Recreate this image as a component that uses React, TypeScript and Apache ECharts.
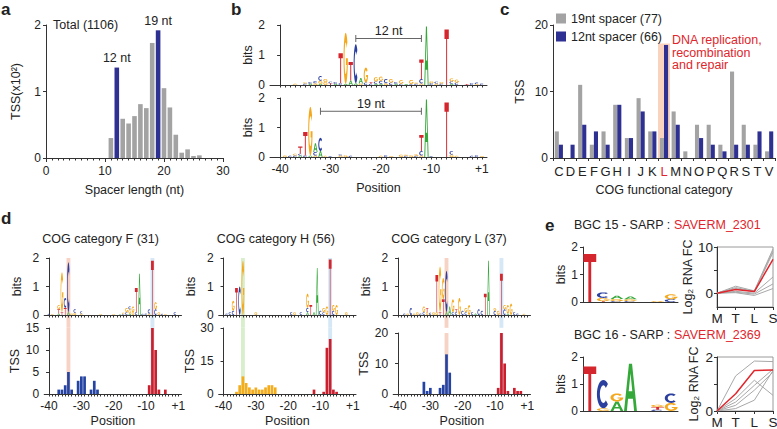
import React, { useEffect, useRef } from 'react';
import * as echarts from 'echarts';

const FONT = '"Liberation Sans", Arial, Helvetica, sans-serif';
const INK = '#222';
const AXC = '#333';
const GRAY = '#a3a3a3';
const NAVY = '#2e3192';
const RED = '#e0262c';

// ---------- panel a ----------
const spacerLength = [11, 12, 13, 14, 15, 16, 17, 18, 19, 20, 21, 22, 23, 24, 25, 26];
const spacerTss = [0.3, 1.36, 0.59, 0.52, 0.63, 0.81, 0.75, 1.73, 1.92, 1.05, 0.76, 0.35, 0.08, 0.13, 0.03, 0.04];
const spacerMarked = [12, 19];
const spacerMarkLabels = ['12 nt', '19 nt'];

// ---------- panel b (logos: [position, letter, height], bottom to top) ----------
const logo12nt = [
  [-37, 'G', 0.04], [-35, 'C', 0.05], [-35, 'G', 0.04], [-34, 'A', 0.04], [-34, 'C', 0.06],
  [-33, 'G', 0.06], [-33, 'C', 0.07], [-32, 'A', 0.04], [-32, 'G', 0.1], [-32, 'C', 0.16],
  [-31, 'G', 0.1], [-31, 'G', 0.1], [-30, 'T', 0.06], [-30, 'C', 0.05], [-29, 'A', 0.04], [-29, 'C', 0.06],
  [-28, 'C', 0.06], [-28, 'T', 1.0], [-27, 'A', 0.04], [-27, 'G', 1.7], [-26, 'A', 0.15], [-26, 'T', 0.62],
  [-25, 'A', 0.06], [-25, 'C', 1.3], [-24, 'G', 0.05], [-24, 'A', 0.18], [-23, 'C', 0.08], [-23, 'G', 0.5],
  [-22, 'C', 0.04], [-22, 'T', 0.06], [-21, 'A', 0.04], [-21, 'C', 0.08], [-21, 'G', 0.14],
  [-20, 'A', 0.04], [-20, 'C', 0.1], [-20, 'G', 0.14], [-19, 'G', 0.06], [-19, 'C', 0.14],
  [-18, 'C', 0.08], [-18, 'G', 0.12], [-17, 'A', 0.04], [-17, 'C', 0.06], [-16, 'C', 0.04], [-16, 'G', 0.12],
  [-15, 'A', 0.03], [-14, 'C', 0.03], [-14, 'G', 0.14], [-13, 'C', 0.04], [-13, 'G', 0.04],
  [-12, 'G', 0.05], [-12, 'C', 0.15], [-12, 'T', 0.65], [-11, 'A', 1.95], [-10, 'C', 0.06], [-10, 'G', 0.06],
  [-9, 'G', 0.05], [-9, 'C', 0.06], [-8, 'C', 0.05], [-8, 'G', 0.05], [-7, 'T', 1.85],
  [-6, 'A', 0.04], [-6, 'C', 0.08], [-6, 'G', 0.1], [-5, 'C', 0.08], [-5, 'G', 0.1],
  [-3, 'T', 0.03], [-2, 'C', 0.06], [-1, 'G', 0.03], [-1, 'C', 0.05], [1, 'C', 0.05],
];
const logo19nt = [
  [-39, 'G', 0.05], [-38, 'C', 0.04], [-37, 'C', 0.05], [-37, 'G', 0.06],
  [-36, 'A', 0.05], [-36, 'C', 0.06], [-36, 'T', 0.25], [-35, 'C', 0.05], [-35, 'T', 0.8],
  [-34, 'A', 0.05], [-34, 'G', 1.65], [-33, 'G', 0.05], [-33, 'C', 0.12], [-33, 'A', 0.3],
  [-32, 'A', 0.2], [-32, 'C', 0.45], [-31, 'G', 0.04], [-30, 'C', 0.03],
  [-28, 'G', 0.05], [-28, 'C', 0.04], [-27, 'G', 0.06], [-26, 'C', 0.04],
  [-20, 'G', 0.04], [-19, 'C', 0.06], [-18, 'G', 0.03], [-16, 'G', 0.08], [-15, 'C', 0.04], [-15, 'G', 0.04],
  [-14, 'G', 0.06], [-13, 'C', 0.04], [-13, 'G', 0.05], [-12, 'G', 0.05], [-12, 'C', 0.15], [-12, 'T', 0.55],
  [-11, 'A', 1.95], [-10, 'C', 0.03], [-7, 'T', 1.85], [-6, 'G', 0.08], [-6, 'C', 0.12], [-5, 'G', 0.04],
  [-2, 'C', 0.04], [-1, 'C', 0.06], [1, 'G', 0.03],
];
const spacerBrackets = [[-25, -12, 1.55], [-32, -12, 1.55]];
const spacerBracketLabels = ['12 nt', '19 nt'];

// ---------- panel c ----------
const cogCategories = ['C', 'D', 'E', 'F', 'G', 'H', 'I', 'J', 'K', 'L', 'M', 'N', 'O', 'P', 'Q', 'R', 'S', 'T', 'V'];
const tss19nt = [4, 0, 11, 2, 4, 8, 3, 9, 4, 3, 7, 1, 5, 5, 2, 13, 5, 2, 1];
const tss12nt = [2, 2, 5, 4, 2, 8, 3, 7, 4, 17, 5, 0, 3, 2, 1, 2, 2, 4, 4];
const cogHighlight = ['L'];
const cogHighlightTop = [17.2];

// ---------- panel d ----------
const logoF = [
  [-40, 'C', 0.04], [-39, 'G', 0.03], [-37, 'A', 0.05], [-37, 'T', 0.15], [-37, 'G', 0.15],
  [-36, 'T', 0.1], [-36, 'G', 1.4], [-35, 'T', 0.25], [-35, 'C', 0.35], [-34, 'A', 0.1], [-34, 'C', 1.75],
  [-33, 'G', 0.05], [-32, 'G', 0.08], [-32, 'C', 0.12], [-30, 'G', 0.05], [-30, 'C', 0.08],
  [-24, 'G', 0.03], [-20, 'G', 0.03], [-18, 'A', 0.03], [-17, 'C', 0.03], [-17, 'G', 0.05],
  [-16, 'C', 0.1], [-16, 'G', 0.15], [-15, 'A', 0.05], [-15, 'G', 0.15], [-15, 'C', 0.1],
  [-14, 'G', 0.1], [-14, 'G', 0.2], [-13, 'C', 0.1], [-13, 'T', 0.85], [-12, 'A', 1.45],
  [-11, 'C', 0.04], [-10, 'C', 0.05], [-9, 'G', 0.05], [-9, 'C', 0.15], [-8, 'T', 1.9],
  [-7, 'C', 0.2], [-7, 'G', 0.25], [-6, 'G', 0.1], [-5, 'C', 0.04], [-4, 'G', 0.03], [-1, 'C', 0.1],
];
const logoH = [
  [-39, 'C', 0.05], [-38, 'C', 0.1], [-37, 'C', 0.15], [-37, 'G', 0.35], [-36, 'T', 0.95],
  [-35, 'C', 1.0], [-34, 'G', 1.9], [-30, 'G', 0.1], [-19, 'C', 0.1], [-18, 'G', 0.1], [-16, 'C', 0.1],
  [-14, 'A', 0.1], [-14, 'C', 0.15], [-14, 'G', 0.5], [-13, 'T', 0.35], [-12, 'A', 0.1], [-11, 'A', 1.65],
  [-10, 'C', 0.15], [-9, 'C', 0.1], [-9, 'G', 0.15], [-8, 'G', 0.3], [-7, 'T', 1.95],
  [-6, 'C', 0.15], [-6, 'G', 0.2], [-5, 'G', 0.35], [-2, 'G', 0.1],
];
const logoL = [
  [-38, 'C', 0.05], [-37, 'G', 0.05], [-36, 'C', 0.25], [-35, 'G', 0.05], [-34, 'G', 0.1], [-33, 'C', 0.05],
  [-32, 'C', 0.1], [-32, 'G', 0.2], [-31, 'G', 0.1], [-31, 'T', 0.15], [-30, 'C', 0.08], [-29, 'G', 0.1],
  [-28, 'G', 0.1], [-28, 'T', 1.3], [-27, 'T', 0.1], [-27, 'G', 1.6], [-26, 'T', 0.55], [-26, 'G', 0.75],
  [-25, 'A', 0.1], [-25, 'C', 1.45], [-24, 'A', 0.3], [-23, 'C', 0.1], [-23, 'G', 0.45],
  [-22, 'C', 0.1], [-22, 'T', 0.1], [-21, 'G', 0.6], [-20, 'C', 0.15], [-19, 'C', 0.1], [-19, 'G', 0.15],
  [-18, 'G', 0.35], [-17, 'C', 0.1], [-16, 'A', 0.05], [-15, 'C', 0.2], [-14, 'C', 0.15],
  [-13, 'T', 0.75], [-12, 'A', 1.9], [-10, 'C', 0.15], [-10, 'G', 0.1], [-9, 'G', 0.15],
  [-8, 'T', 1.45], [-7, 'C', 0.2], [-7, 'G', 0.15], [-6, 'A', 0.05], [-6, 'G', 0.3], [-5, 'G', 0.4],
  [-4, 'C', 0.1], [-3, 'C', 0.05], [-1, 'G', 0.04],
];
const tssFUpstream = [[-37, 1], [-36, 1], [-35, 2], [-34, 5], [-33, 1], [-31, 3], [-30, 4], [-29, 4], [-27, 1], [-26, 3], [-25, 1]];
const tssFCore = [[-9, 2], [-8, 15], [-7, 10], [-6, 1], [-4, 1]];
const tssHUpstream = [[-36, 1], [-35, 4], [-34, 8], [-33, 5], [-32, 3], [-31, 2], [-30, 3], [-29, 2], [-28, 2], [-27, 3], [-26, 4], [-25, 4], [-24, 3]];
const tssHCore = [[-12, 2], [-9, 1], [-8, 21], [-7, 25], [-6, 2], [-5, 1]];
const tssLUpstream = [[-32, 4], [-31, 1], [-30, 2], [-27, 2], [-26, 3], [-25, 13], [-24, 7]];
const tssLCore = [[-9, 2], [-8, 20], [-7, 10], [-6, 1], [-4, 2], [-3, 1], [-2, 1]];
const dTitles = ['COG category F (31)', 'COG category H (56)', 'COG category L (37)'];
const dTssMax = [15, 30, 20];
const dHighlights = [[[-34, 'pink'], [-8, 'blue']], [[-34, 'green'], [-7, 'blue']], [[-25, 'pink'], [-8, 'blue']]];

// ---------- panel e ----------
const logoBgc15 = [
  [1, 'T', 1.75], [2, 'T', 0.03], [2, 'G', 0.12], [2, 'C', 0.2], [3, 'C', 0.03], [3, 'G', 0.08], [3, 'A', 0.12],
  [4, 'C', 0.03], [4, 'G', 0.07], [4, 'A', 0.1], [6, 'G', 0.03], [7, 'C', 0.1], [7, 'G', 0.18],
];
const logoBgc16 = [
  [1, 'T', 1.65], [2, 'G', 0.1], [2, 'C', 1.05], [3, 'A', 0.35], [3, 'G', 0.3], [4, 'A', 1.75],
  [6, 'C', 0.05], [6, 'T', 0.1], [6, 'G', 0.08], [7, 'G', 0.3], [7, 'C', 0.35],
];
const stages = ['M', 'T', 'L', 'S'];
const fc2301Others = [[0, 1.5, 0.5, 9.6], [0, 1.2, 0.4, 9.2], [0, 1.0, 0.3, 8.8], [0, 0.4, 0.0, 3.5], [0, 0.2, -0.2, 2.0], [0, 0.1, -0.5, 1.0]];
const fc2301 = [0, 0.8, 0.35, 7.3];
const fc2369Others = [[0, 1.3, 1.85, 1.83], [0, 0.46, 1.14, 0.58], [0, 0.33, 0.95, 1.55], [0, 0.21, 0.77, 1.44], [0, 0.09, 0.4, 1.5]];
const fc2369 = [0, 0.64, 1.5, 1.52];
const eTitles = [['BGC 15 - SARP : ', 'SAVERM_2301'], ['BGC 16 - SARP : ', 'SAVERM_2369']];

const positionTickLabels = ['-40', '-30', '-20', '-10', '+1'];

// ---------- letter shapes ----------
const LETTERS = ['A', 'C', 'G', 'T'];
const LETTER_COLORS = ['#35a83a', '#2b3f9e', '#f4a81d', '#d4262c'];
const BAND_COLORS: Record<string, string> = { pink: '#f7d3c6', green: '#d9eecb', blue: '#d6e8f6' };

function ell(cx: number, cy: number, rx: number, ry: number, a0: number, a1: number, n: number) {
  const pts: number[][] = [];
  for (let i = 0; i <= n; i++) {
    const t = ((a0 + ((a1 - a0) * i) / n) * Math.PI) / 180;
    pts.push([cx + rx * Math.cos(t), cy - ry * Math.sin(t)]);
  }
  return pts;
}
const SHAPE_POLYS: number[][][][] = [
  [
    [[0, 1], [0.38, 0], [0.62, 0], [1, 1], [0.78, 1], [0.69, 0.74], [0.31, 0.74], [0.22, 1]],
    [[0.36, 0.58], [0.64, 0.58], [0.5, 0.2]],
  ],
  [[...ell(0.5, 0.5, 0.5, 0.5, 45, 315, 24), ...ell(0.5, 0.5, 0.27, 0.31, 315, 45, 24)]],
  [[...ell(0.5, 0.5, 0.5, 0.5, 40, 360, 26), [0.55, 0.5], [0.55, 0.63], [0.76, 0.63], ...ell(0.5, 0.5, 0.27, 0.31, 335, 40, 24)]],
  [[[0, 0], [1, 0], [1, 0.17], [0.61, 0.17], [0.61, 1], [0.39, 1], [0.39, 0.17], [0, 0.17]]],
];
const SHAPE_NAMES = ['logoLetterA', 'logoLetterC', 'logoLetterG', 'logoLetterT'];
let shapesRegistered = false;
function registerShapes() {
  if (shapesRegistered) return;
  shapesRegistered = true;
  SHAPE_POLYS.forEach((polys, k) => {
    const Cls = (echarts as any).graphic.extendShape({
      shape: { x: 0, y: 0, width: 0, height: 0 },
      buildPath(ctx: any, s: any) {
        for (const poly of polys) {
          poly.forEach(([u, v], i) => {
            const px = s.x + u * s.width;
            const py = s.y + v * s.height;
            if (i === 0) ctx.moveTo(px, py);
            else ctx.lineTo(px, py);
          });
          ctx.closePath();
        }
      },
    });
    (echarts as any).graphic.registerShape(SHAPE_NAMES[k], Cls);
  });
}

const posIdx = (p: number) => (p < 0 ? p + 40 : 40);
function stackLogo(entries: any[], toX: (p: number) => number) {
  const cum = new Map<number, number>();
  return entries.map(([p, l, h]) => {
    const b = cum.get(p) || 0;
    cum.set(p, b + h);
    return [toX(p), b, b + h, LETTERS.indexOf(l)];
  });
}

const makeLetterRender = (widthFactor: number) => (_params: any, api: any) => {
  const x = api.value(0), y0 = api.value(1), y1 = api.value(2), li = api.value(3);
  const p0 = api.coord([x, y0]);
  const p1 = api.coord([x, y1]);
  const w = api.size([1, 0])[0] * widthFactor;
  const h = p0[1] - p1[1];
  if (h < 0.4) return null;
  return {
    type: SHAPE_NAMES[li],
    shape: { x: p0[0] - w / 2, y: p1[1], width: w, height: h },
    style: { fill: LETTER_COLORS[li] },
  };
};

const bandRender = (_params: any, api: any) => {
  const x = api.value(0), lo = api.value(1), hi = api.value(2), ci = api.value(3);
  const a = api.coord([x - 0.6, hi]);
  const b = api.coord([x + 0.6, lo]);
  return {
    type: 'rect',
    shape: { x: a[0], y: a[1], width: b[0] - a[0], height: b[1] - a[1] },
    style: { fill: Object.values(BAND_COLORS)[ci] },
  };
};

function buildOption() {
  const grids: any[] = [];
  const xAxes: any[] = [];
  const yAxes: any[] = [];
  const series: any[] = [];
  const graphics: any[] = [];
  const lineStyle = { color: AXC, width: 1 };
  const labelStyle = { color: INK, fontSize: 12, fontFamily: FONT };
  const nameStyle = { color: INK, fontSize: 12.5, fontFamily: FONT };

  const addGrid = (left: number, top: number, width: number, height: number, extra: any = {}) => {
    grids.push({ left, top, width, height, containLabel: false, outerBoundsMode: 'none', ...extra });
    return grids.length - 1;
  };
  const addX = (ax: any) => { xAxes.push({ splitLine: { show: false }, ...ax }); return xAxes.length - 1; };
  const addY = (ax: any) => { yAxes.push({ splitLine: { show: false }, ...ax }); return yAxes.length - 1; };
  const yValue = (gridIndex: number, min: number, max: number, interval: number, name: string, nameGap: number, extra: any = {}) =>
    addY({
      type: 'value', gridIndex, min, max, interval, name, nameLocation: 'middle', nameGap, nameTextStyle: nameStyle,
      axisLine: { show: true, lineStyle }, axisTick: { show: true, length: 3, lineStyle },
      axisLabel: { ...labelStyle, margin: 5 }, ...extra,
    });
  const text = (x: number, y: number, t: string, style: any = {}) =>
    graphics.push({ type: 'text', x, y, style: { text: t, fill: INK, font: `12.5px ${FONT}`, textVerticalAlign: 'middle', ...style } });

  const posAxis = (gridIndex: number, min: number, max: number, showLabels: boolean, nameGap = 24) =>
    addX({
      type: 'value', gridIndex, min, max,
      axisLine: { show: true, onZero: false, lineStyle },
      axisTick: { show: true, length: 2.5, lineStyle, customValues: Array.from({ length: 41 }, (_, i) => i) },
      axisLabel: {
        show: showLabels, ...labelStyle, margin: 6, customValues: [0, 10, 20, 30, 40],
        formatter: (v: number) => positionTickLabels[Math.round(v / 10)] ?? '',
      },
      name: showLabels ? 'Position' : '', nameLocation: 'middle', nameGap, nameTextStyle: nameStyle,
    });

  const addLogo = (xi: number, yi: number, entries: any[], toX: (p: number) => number, widthFactor = 0.86) => {
    series.push({
      type: 'custom', xAxisIndex: xi, yAxisIndex: yi, renderItem: makeLetterRender(widthFactor), silent: true, z: 3,
      encode: { x: 0, y: [1, 2] }, data: stackLogo(entries, toX),
    });
  };

  // ---- a ----
  {
    const g = addGrid(46, 25, 177, 133);
    const xi = addX({
      type: 'value', gridIndex: g, min: 0, max: 30, interval: 10,
      axisLine: { show: true, onZero: false, lineStyle }, axisTick: { show: true, length: 4, lineStyle },
      minorTick: { show: true, splitNumber: 10, length: 2.5, lineStyle },
      axisLabel: { ...labelStyle, margin: 7 },
      name: 'Spacer length (nt)', nameLocation: 'middle', nameGap: 25, nameTextStyle: nameStyle,
    });
    const yi = yValue(g, 0, 2, 1, 'TSS(x10²)', 24);
    series.push({
      type: 'bar', xAxisIndex: xi, yAxisIndex: yi, barWidth: 4.6, silent: true,
      data: spacerLength.map((x, i) => {
        const m = spacerMarked.indexOf(x);
        return {
          value: [x, spacerTss[i]],
          itemStyle: { color: m >= 0 ? NAVY : GRAY },
          label: m >= 0 ? { show: true, position: 'top', distance: 3, formatter: spacerMarkLabels[m], ...labelStyle, fontSize: 12.5 } : { show: false },
        };
      }),
    });
    text(53, 25, 'Total (1106)');
  }

  // ---- b ----
  {
    const rows = [[25, 60, logo12nt, false], [98, 59, logo19nt, true]];
    rows.forEach(([top, h, logo, lab]: any, r) => {
      const g = addGrid(270, top, 217, h);
      const xi = posAxis(g, -2, 41, lab);
      const yi = yValue(g, 0, 2, 1, 'bits', 16);
      addLogo(xi, yi, logo, posIdx);
      const br = spacerBrackets[r];
      series.push({
        type: 'custom', xAxisIndex: xi, yAxisIndex: yi, silent: true, z: 4,
        data: [[posIdx(br[0]), posIdx(br[1]), br[2]]],
        renderItem: (_p: any, api: any) => {
          const p0 = api.coord([api.value(0), api.value(2)]);
          const p1 = api.coord([api.value(1), api.value(2)]);
          const st = { stroke: '#666', lineWidth: 1 };
          return {
            type: 'group',
            children: [
              { type: 'line', shape: { x1: p0[0], y1: p0[1], x2: p1[0], y2: p1[1] }, style: st },
              { type: 'line', shape: { x1: p0[0], y1: p0[1] - 3.5, x2: p0[0], y2: p0[1] + 3.5 }, style: st },
              { type: 'line', shape: { x1: p1[0], y1: p1[1] - 3.5, x2: p1[0], y2: p1[1] + 3.5 }, style: st },
              {
                type: 'text', x: (p0[0] + p1[0]) / 2, y: p0[1] - 1,
                style: { text: spacerBracketLabels[r], fill: INK, font: `12.5px ${FONT}`, textAlign: 'center', textVerticalAlign: 'bottom' },
              },
            ],
          };
        },
      });
    });
  }

  // ---- c ----
  {
    const g = addGrid(553, 25, 222, 133);
    const xi = addX({
      type: 'category', gridIndex: g, data: cogCategories,
      axisLine: { show: true, onZero: false, lineStyle }, axisTick: { show: true, length: 3, lineStyle },
      axisLabel: { ...labelStyle, fontSize: 13, interval: 0, margin: 7, color: (v: string) => (cogHighlight.includes(v) ? RED : INK) },
      name: 'COG functional category', nameLocation: 'middle', nameGap: 25, nameTextStyle: nameStyle,
    });
    const xh = addX({ type: 'category', gridIndex: g, data: cogCategories, show: false });
    const yi = yValue(g, 0, 20, 10, 'TSS', 27);
    series.push({
      type: 'bar', xAxisIndex: xh, yAxisIndex: yi, barWidth: 12, z: 1, silent: true,
      data: cogCategories.map((c) => { const k = cogHighlight.indexOf(c); return k >= 0 ? cogHighlightTop[k] : null; }),
      itemStyle: { color: '#f9d3bd' },
    });
    series.push({ type: 'bar', name: '19nt spacer (77)', xAxisIndex: xi, yAxisIndex: yi, data: tss19nt, itemStyle: { color: GRAY }, barGap: '0%', barCategoryGap: '30%', silent: true });
    series.push({ type: 'bar', name: '12nt spacer (66)', xAxisIndex: xi, yAxisIndex: yi, data: tss12nt, itemStyle: { color: NAVY }, barGap: '0%', barCategoryGap: '30%', silent: true });
    graphics.push({
      type: 'text', x: 672, y: 34,
      style: { text: 'DNA replication,\nrecombination\nand repair', fill: RED, font: `12.5px ${FONT}`, lineHeight: 12.5, textVerticalAlign: 'top' },
    });
  }

  // ---- d ----
  {
    const lefts = [44.2, 218.7, 393.2];
    const logos = [logoF, logoH, logoL];
    const ups = [tssFUpstream, tssHUpstream, tssLUpstream];
    const cores = [tssFCore, tssHCore, tssLCore];
    const upColors = ['#2443a3', '#f5ac1a', '#2443a3'];
    const barTops = [328, 328, 333];
    const bandNames = Object.keys(BAND_COLORS);
    lefts.forEach((left, k) => {
      const gl = addGrid(left, 258, 137.3, 57);
      const xl = posAxis(gl, -1.5, 41, false);
      const yl = yValue(gl, 0, 2, 1, 'bits', 21);
      const gb = addGrid(left, barTops[k], 137.3, 394 - barTops[k]);
      const xb = posAxis(gb, -1.5, 41, true, 20);
      const yb = yValue(gb, 0, dTssMax[k], dTssMax[k] / (k === 0 ? 3 : 2), 'TSS', 21);
      const hl = dHighlights[k];
      series.push({
        type: 'custom', xAxisIndex: xl, yAxisIndex: yl, renderItem: bandRender, silent: true, z: -1, clip: false,
        encode: { x: 0, y: [1, 2] },
        data: hl.map(([p, c]: any) => [posIdx(p), -0.45, 2, bandNames.indexOf(c)]),
      });
      series.push({
        type: 'custom', xAxisIndex: xb, yAxisIndex: yb, renderItem: bandRender, silent: true, z: -1,
        encode: { x: 0, y: [1, 2] },
        data: hl.map(([p, c]: any) => [posIdx(p), 0, dTssMax[k], bandNames.indexOf(c)]),
      });
      addLogo(xl, yl, logos[k], posIdx);
      series.push({
        type: 'bar', xAxisIndex: xb, yAxisIndex: yb, barWidth: 2.7, silent: true,
        data: [
          ...ups[k].map(([p, v]) => ({ value: [posIdx(p), v], itemStyle: { color: upColors[k] } })),
          ...cores[k].map(([p, v]) => ({ value: [posIdx(p), v], itemStyle: { color: '#cc1f2d' } })),
        ],
      });
      text(left - 2, 239, dTitles[k]);
    });
  }

  // ---- e ----
  {
    const logoTops = [[247, 55], [357, 54]];
    const logos = [logoBgc15, logoBgc16];
    const lineGrids = [[247, 60, -3, 10, [0, 10], [0, 5, 10]], [357, 54, 0, 2, [0, 2], [0, 1, 2]]];
    const others = [fc2301Others, fc2369Others];
    const reds = [fc2301, fc2369];
    [0, 1].forEach((k) => {
      const [top, h] = logoTops[k];
      const g = addGrid(583, top, 95, h);
      const xi = addX({
        type: 'value', gridIndex: g, min: 0.5, max: 7.5,
        axisLine: { show: true, onZero: false, lineStyle }, axisTick: { show: false }, axisLabel: { show: false },
      });
      const yi = yValue(g, 0, 2, 1, 'bits', 15);
      addLogo(xi, yi, logos[k], (p) => p, 0.95);

      const [lt, lh, ymin, ymax, labs, ticks]: any = lineGrids[k];
      const gl = addGrid(717, lt, 56, lh, { show: true, borderColor: '#9a9a9a', borderWidth: 1 });
      const xl = addX({
        type: 'category', gridIndex: gl, data: stages, boundaryGap: false,
        axisLine: { show: true, onZero: false, lineStyle }, axisTick: { show: true, length: 3, lineStyle },
        axisLabel: { ...labelStyle, fontSize: 13.5, margin: 4, interval: 0 },
      });
      const yl = addY({
        type: 'value', gridIndex: gl, min: ymin, max: ymax,
        axisLine: { show: true, lineStyle }, axisTick: { show: true, length: 3, lineStyle, customValues: ticks },
        axisLabel: { ...labelStyle, fontSize: 13.5, margin: 4, customValues: labs },
        name: 'Log₂ RNA FC', nameLocation: 'middle', nameGap: 17, nameTextStyle: nameStyle,
      });
      others[k].forEach((d) => series.push({
        type: 'line', xAxisIndex: xl, yAxisIndex: yl, data: d, symbol: 'none', silent: true,
        lineStyle: { color: '#a8a8a8', width: 1 }, z: 2,
      }));
      series.push({
        type: 'line', xAxisIndex: xl, yAxisIndex: yl, data: reds[k], symbol: 'none', silent: true,
        lineStyle: { color: RED, width: 1.5 }, z: 3,
      });
      graphics.push({
        type: 'text', x: 574, y: k === 0 ? 225 : 335,
        style: {
          text: `{a|${eTitles[k][0]}}{b|${eTitles[k][1]}}`, textVerticalAlign: 'middle', font: `12.5px ${FONT}`,
          rich: { a: { fill: INK, fontSize: 12.5, fontFamily: FONT }, b: { fill: RED, fontSize: 12.5, fontFamily: FONT } },
        },
      });
    });
  }

  // panel letters
  const bold = { font: `bold 17px ${FONT}` };
  text(1, 9, 'a', bold);
  text(231, 9, 'b', bold);
  text(500, 9, 'c', bold);
  text(1, 218, 'd', bold);
  text(545, 225, 'e', bold);

  return {
    animation: false,
    backgroundColor: '#ffffff',
    textStyle: { fontFamily: FONT },
    grid: grids,
    xAxis: xAxes,
    yAxis: yAxes,
    legend: {
      left: 556, top: 12, orient: 'vertical', itemWidth: 10, itemHeight: 10, itemGap: 5, padding: 0,
      icon: 'rect', selectedMode: false,
      data: ['19nt spacer (77)', '12nt spacer (66)'],
      textStyle: { color: INK, fontSize: 12.5, fontFamily: FONT },
    },
    graphic: graphics,
    series,
  };
}

export default function App() {
  const ref = useRef<HTMLDivElement>(null);
  useEffect(() => {
    if (!ref.current) return;
    registerShapes();
    const chart = echarts.init(ref.current, undefined, { renderer: 'svg' });
    chart.setOption(buildOption() as any);
    return () => chart.dispose();
  }, []);
  return <div ref={ref} style={{ position: 'absolute', left: 0, top: 0, width: 777, height: 429, background: '#fff' }} />;
}
